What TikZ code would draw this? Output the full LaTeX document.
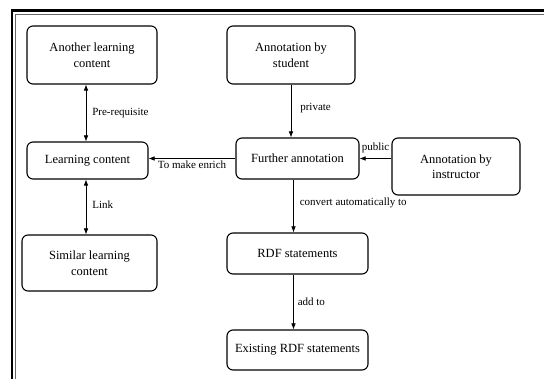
\documentclass[tikz,border=0pt]{standalone}
\usepackage{fontspec}
\setmainfont{Liberation Serif}
\usetikzlibrary{arrows.meta}
\tikzset{
  box/.style={draw, line width=1.1pt, rounded corners=6pt, align=center,
    inner sep=2pt, font=\fontsize{12.5}{15.5}\selectfont},
  link/.style={line width=0.6pt, -{Latex[length=6pt,width=4.5pt]}},
  both/.style={line width=0.6pt, {Latex[length=6pt,width=4.5pt]}-{Latex[length=6pt,width=4.5pt]}},
  lab/.style={font=\fontsize{11}{13}\selectfont, inner sep=1pt}
}
\begin{document}
\begin{tikzpicture}[x=1pt,y=-1pt]
\useasboundingbox (0,0) rectangle (544,379);
% page frame: thick outer rule and thin inner rule
\draw[line width=2.4pt] (12,385) -- (12,10.5) -- (550,10.5);
\draw[line width=0.8pt, black!60] (15.5,385) -- (15.5,14.5) -- (550,14.5);

% boxes
\node[box, minimum width=130pt, minimum height=58pt] (alc) at (92,55) {Another learning\\content};
\node[box, minimum width=128pt, minimum height=58pt] (abs) at (291,55) {Annotation by\\student};
\node[box, minimum width=121pt, minimum height=37pt] (lc) at (87.5,160.5) {Learning content};
\node[box, minimum width=123pt, minimum height=41pt] (fa) at (297.5,158.5) {Further annotation};
\node[box, minimum width=128pt, minimum height=57pt] (abi) at (456,166.5) {Annotation by\\instructor};
\node[box, minimum width=135pt, minimum height=56pt] (slc) at (89.5,263) {Similar learning\\content};
\node[box, minimum width=141pt, minimum height=41pt] (rdf) at (297.5,253.5) {RDF statements};
\node[box, minimum width=141pt, minimum height=40pt] (erdf) at (297.5,350) {Existing RDF statements};

% connectors
\draw[both] ([xshift=-1.5pt]lc.north) -- ([xshift=-1.5pt]lc.north |- alc.south)
  node[lab, pos=0.5, right=5pt] {Pre-requisite};
\draw[both] ([xshift=-1.5pt]lc.south) -- ([xshift=-1.5pt]lc.south |- slc.north)
  node[lab, pos=0.45, right=5pt] {Link};
\draw[link] (abs.south) -- (abs.south |- fa.north)
  node[lab, pos=0.45, right=8pt] {private};
\draw[link] (abi.west |- fa.east) -- (fa.east)
  node[lab, pos=0.5, above=4pt] {public};
\draw[link] (fa.west) -- (fa.west -| lc.east)
  node[lab, pos=0.5, below=1pt] {To make enrich};
\draw[link] ([xshift=-4pt]fa.south) -- ([xshift=-4pt]fa.south |- rdf.north)
  node[lab, pos=0.45, right=5pt] {convert automatically to};
\draw[link] ([xshift=-4pt]rdf.south) -- ([xshift=-4pt]rdf.south |- erdf.north)
  node[lab, pos=0.5, right=3pt] {add to};
\end{tikzpicture}
\end{document}
